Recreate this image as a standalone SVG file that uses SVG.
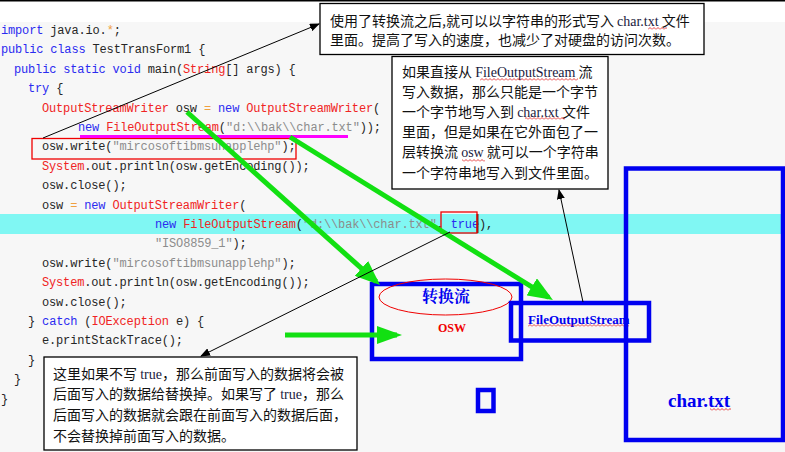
<svg xmlns="http://www.w3.org/2000/svg" width="785" height="452" viewBox="0 0 785 452">
<style>
.code{font-family:"Liberation Mono","Courier New",monospace;font-size:12px;letter-spacing:-0.16px;fill:#262626;white-space:pre}
.k{fill:#2b2bf0}.c{fill:#f02424}.s{fill:#8c8c8c}.o{fill:#f0a040}
.cj{font-family:"Noto Sans CJK SC","Noto Sans",sans-serif;font-size:14px;fill:#111;white-space:pre}
.lt{font-family:"Liberation Serif","Times New Roman",serif;fill:#1a1a40}
.call{fill:#fff;stroke:#000;stroke-width:1.3}
.blue{fill:none;stroke:#0000f0;stroke-width:4.5}
.green{fill:none;stroke:#12e012;stroke-width:5}
.thin{fill:none;stroke:#000;stroke-width:1}
</style>
<defs>
<marker id="ga" markerUnits="userSpaceOnUse" markerWidth="26" markerHeight="20" refX="20" refY="10" orient="auto"><path d="M0,0 L25,10 L0,20 Z" fill="#12e012"/></marker>
<marker id="ga2" markerUnits="userSpaceOnUse" markerWidth="26" markerHeight="18" refX="20" refY="9" orient="auto"><path d="M0,0 L25,9 L0,18 Z" fill="#12e012"/></marker>
<marker id="ba" markerUnits="userSpaceOnUse" markerWidth="10" markerHeight="8" refX="9" refY="4" orient="auto"><path d="M0,0 L10,4 L0,8 Z" fill="#000"/></marker>
<pattern id="sq" width="4" height="3" patternUnits="userSpaceOnUse"><path d="M0,2.5 L2,0.5 L4,2.5" fill="none" stroke="#e01010" stroke-width="0.8"/></pattern>
</defs>
<rect x="0" y="0" width="785" height="452" fill="#fff"/>
<rect x="0" y="22" width="785" height="430" fill="#f7f7f7"/>
<line x1="0" y1="0.8" x2="785" y2="0.8" stroke="#000" stroke-width="1.6"/>
<rect x="0" y="214" width="785" height="20" fill="#80f7f3"/>
<g id="code" class="code">
<text x="1" y="34"><tspan class="k">import</tspan> java.io.<tspan class="o">*</tspan>;</text>
<text x="1" y="53.4"><tspan class="k">public class</tspan> TestTransForm1 {</text>
<text x="14" y="72.8"><tspan class="k">public static void</tspan> main(<tspan class="c">String</tspan>[] args) {</text>
<text x="28" y="92.2"><tspan class="k">try</tspan> {</text>
<text x="42" y="111.6"><tspan class="c">OutputStreamWriter</tspan> osw <tspan class="o">=</tspan> <tspan class="k">new</tspan> <tspan class="c">OutputStreamWriter</tspan>(</text>
<text x="78" y="131"><tspan class="k">new</tspan> <tspan class="c">FileOutputStream</tspan>(<tspan class="s">"d:\\bak\\char.txt"</tspan>));</text>
<text x="42" y="150.4">osw.write(<tspan class="s">"mircosoftibmsunapplehp"</tspan>);</text>
<text x="42" y="169.8"><tspan class="c">System</tspan>.out.println(osw.getEncoding());</text>
<text x="42" y="189.2">osw.close();</text>
<text x="42" y="208.6">osw <tspan class="o">=</tspan> <tspan class="k">new</tspan> <tspan class="c">OutputStreamWriter</tspan>(</text>
<text x="155" y="228"><tspan class="k">new</tspan> <tspan class="c">FileOutputStream</tspan>(<tspan class="s">"d:\\bak\\char.txt"</tspan>, <tspan class="k">true</tspan>),</text>
<text x="155" y="247.4"><tspan class="s">"ISO8859_1"</tspan>);</text>
<text x="42" y="266.8">osw.write(<tspan class="s">"mircosoftibmsunapplehp"</tspan>);</text>
<text x="42" y="286.2"><tspan class="c">System</tspan>.out.println(osw.getEncoding());</text>
<text x="42" y="305.6">osw.close();</text>
<text x="28" y="325">} <tspan class="k">catch</tspan> (<tspan class="c">IOException</tspan> e) {</text>
<text x="42" y="344.4">e.printStackTrace();</text>
<text x="28" y="363.8">}</text>
<text x="14" y="383.2">}</text>
<text x="1" y="402.6">}</text>
<rect x="476.5" y="214" width="2" height="19" fill="#5a3020"/>
</g>
<g id="marks">
<rect x="32" y="138.5" width="264" height="20.5" fill="none" stroke="#f00000" stroke-width="1.3"/>
<rect x="441" y="212" width="36" height="21" fill="none" stroke="#f00000" stroke-width="1.3"/>
<line x1="80" y1="136.5" x2="348" y2="136.5" stroke="#ff00ff" stroke-width="3"/>
</g>
<g id="converter">
<rect class="blue" x="372" y="284" width="149" height="75"/>
<ellipse cx="445.5" cy="297" rx="66.5" ry="18" fill="none" stroke="#f00000" stroke-width="1"/>
<text x="446" y="302" text-anchor="middle" font-family="Noto Serif CJK SC,Noto Sans CJK SC,serif" font-size="16" font-weight="bold" fill="#0000f0">转换流</text>
<text x="452" y="332" text-anchor="middle" font-family="Liberation Serif,serif" font-size="17" font-weight="bold" font-variant="small-caps" fill="#f00000">osw</text>
</g>
<g id="fileoutputstream">
<rect class="blue" x="511" y="303" width="138" height="37.5"/>
<text x="528" y="324" font-family="Liberation Serif,serif" font-size="13" font-weight="bold" fill="#0000f0">FileOutputStream</text>
<rect x="528" y="324" width="101" height="3" fill="url(#sq)"/>
</g>
<g id="chartxt">
<rect class="blue" x="626" y="168.5" width="157" height="271.5"/>
<text x="668" y="407" font-family="Liberation Serif,serif" font-size="19" font-weight="bold" fill="#0000f0">char.txt</text>
<rect x="710" y="408" width="21" height="3" fill="url(#sq)"/>
</g>
<g id="small-square">
<rect class="blue" x="478" y="390" width="15.5" height="21" stroke-width="4"/>
</g>
<g id="connectors">
<line class="green" x1="187" y1="112" x2="376.3" y2="281.7" marker-end="url(#ga)"/>
<line class="green" x1="290" y1="137" x2="548.7" y2="297.4" marker-end="url(#ga)"/>
<line class="green" x1="285" y1="335" x2="397" y2="335" marker-end="url(#ga2)"/>
<line class="thin" x1="43" y1="138" x2="319" y2="24" marker-end="url(#ba)"/>
<line class="thin" x1="450" y1="232" x2="201" y2="356" marker-end="url(#ba)"/>
<line class="thin" x1="583" y1="302" x2="559" y2="190" marker-end="url(#ba)"/>
</g>
<g id="callout-top">
<rect class="call" x="320" y="3.5" width="384" height="51"/>
<text class="cj" x="330" y="25.5">使用了转换流之后,就可以以字符串的形式写入 <tspan class="lt">char.txt</tspan> 文件</text>
<text class="cj" x="330" y="44.5">里面。提高了写入的速度，也减少了对硬盘的访问次数。</text>
<rect x="648" y="27" width="19" height="3" fill="url(#sq)"/>
</g>
<g id="callout-fos">
<rect class="call" x="392" y="56.5" width="216" height="132.5"/>
<text class="cj" x="402" y="76.5">如果直接从 <tspan class="lt">FileOutputStream</tspan> 流</text>
<text class="cj" x="402" y="96.7">写入数据，那么只能是一个字节</text>
<text class="cj" x="402" y="116.9">一个字节地写入到 <tspan class="lt">char.txt</tspan> 文件</text>
<text class="cj" x="402" y="137.1">里面，但是如果在它外面包了一</text>
<text class="cj" x="402" y="157.3">层转换流 <tspan class="lt">osw</tspan> 就可以一个字符串</text>
<text class="cj" x="402" y="177.5">一个字符串地写入到文件里面。</text>
<rect x="480" y="78" width="98" height="3" fill="url(#sq)"/>
<rect x="525" y="117" width="40" height="3" fill="url(#sq)"/>
<rect x="462" y="159" width="23" height="3" fill="url(#sq)"/>
</g>
<g id="callout-true">
<rect class="call" x="44" y="357" width="313" height="93"/>
<text class="cj" x="53" y="378.5">这里如果不写 <tspan class="lt">true</tspan>，那么前面写入的数据将会被</text>
<text class="cj" x="53" y="399.3">后面写入的数据给替换掉。如果写了 <tspan class="lt">true</tspan>，那么</text>
<text class="cj" x="53" y="420">后面写入的数据就会跟在前面写入的数据后面，</text>
<text class="cj" x="53" y="440.5">不会替换掉前面写入的数据。</text>
</g>
</svg>
